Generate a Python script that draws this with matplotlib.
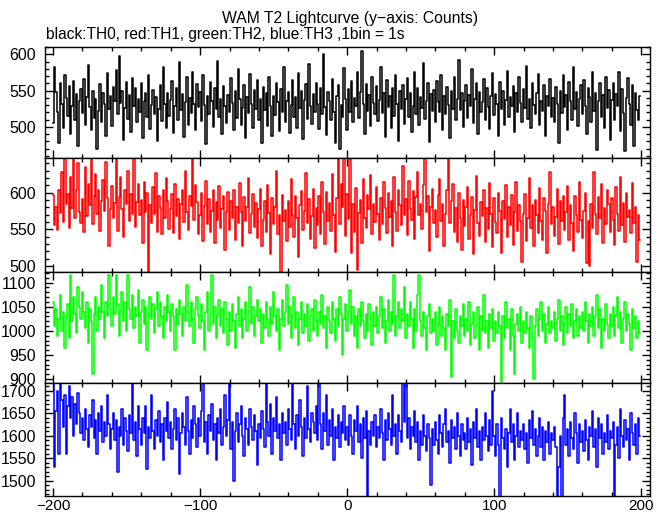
import numpy as np
import matplotlib
matplotlib.use("Agg")
import matplotlib.pyplot as plt
from matplotlib.ticker import MultipleLocator

# ---- data (counts per 1 s bin) ----
bin_start = -200
n_bins = 400

th0 = [
 505,583,548,521,477,560,532,498,571,540,515,556,490,528,563,509,545,474,536,552,
 519,566,503,541,585,527,495,550,512,538,470,522,559,507,547,531,488,574,524,543,
 501,555,536,578,517,598,533,549,482,526,562,511,544,493,567,529,553,506,539,520,
 561,484,535,546,513,572,497,530,551,518,541,480,525,557,508,582,532,499,547,515,
 537,563,492,528,554,510,589,523,545,486,534,568,502,540,519,576,531,496,559,527,
 548,508,571,530,476,542,517,562,535,500,553,524,591,514,538,490,556,529,505,544,
 520,567,533,496,549,512,580,538,503,526,557,485,541,519,573,532,498,551,525,564,
 510,539,478,555,523,546,501,569,529,487,543,516,560,534,494,552,521,583,507,536,
 548,491,530,565,513,541,499,574,526,550,483,537,559,511,587,528,504,545,520,561,
 532,497,554,518,600,527,489,548,535,509,566,521,478,543,557,469,530,514,581,538,
 495,552,520,563,506,540,528,575,512,548,604,531,490,559,522,544,501,569,533,517,
 556,508,537,582,519,546,486,564,527,542,498,553,515,571,531,481,549,524,558,504,
 539,567,513,547,493,529,576,518,554,502,541,526,588,511,536,560,479,545,522,551,
 507,563,534,521,572,496,543,517,555,530,484,549,525,568,510,539,592,523,547,500,
 535,557,512,544,528,579,505,538,561,490,548,520,534,566,509,553,527,497,542,574,
 516,545,531,488,562,524,550,503,537,577,514,541,529,556,493,547,521,569,533,507,
 552,526,584,511,539,498,560,530,517,546,573,502,535,522,558,487,543,528,566,513,
 540,506,555,532,478,549,519,571,527,544,495,562,536,510,583,524,548,501,538,557,
 518,565,529,490,553,541,507,576,522,547,468,535,560,513,544,499,569,526,551,482,
 537,561,509,545,528,575,494,552,519,466,540,567,531,502,558,473,546,523,510,542,
]

th1 = [
 597,556,581,549,603,572,628,560,650,585,598,552,621,579,650,566,603,640,574,558,
 591,547,635,568,612,583,650,557,596,625,571,603,548,589,617,575,642,592,528,578,
 609,566,586,650,548,594,621,577,539,603,584,630,562,598,571,650,553,587,612,569,
 590,532,615,574,600,488,583,558,607,571,626,546,595,579,543,604,566,620,588,551,
 577,598,545,612,568,591,537,584,603,560,629,574,549,596,582,650,563,610,587,543,
 569,599,534,582,616,557,591,546,575,604,531,587,563,609,552,578,596,522,573,601,
 549,588,566,604,535,581,559,613,574,527,594,562,580,620,545,571,598,553,586,538,
 577,605,528,563,589,547,610,572,516,592,557,581,630,544,569,488,597,561,576,534,
 588,553,619,570,540,595,566,512,583,602,549,575,626,558,591,537,568,605,524,579,
 556,596,543,615,574,530,601,562,586,548,625,570,519,593,650,557,612,580,650,541,
 598,564,650,518,584,547,606,495,572,590,531,618,566,552,597,578,624,543,585,560,
 608,571,536,593,557,614,579,545,600,567,589,528,621,574,548,603,583,556,636,570,
 591,542,616,578,563,602,537,594,628,569,585,551,610,650,573,596,521,580,605,558,
 576,539,597,618,562,584,527,571,603,650,559,588,612,546,579,533,600,566,522,590,
 554,581,607,537,569,594,516,576,622,558,541,587,568,604,533,579,550,613,571,526,
 593,560,545,600,575,518,588,564,610,539,581,556,597,529,573,615,548,583,562,505,
 571,598,534,566,620,552,583,527,590,569,545,606,561,536,592,575,518,585,628,557,
 580,541,567,605,530,588,562,596,549,574,609,535,583,559,521,596,570,546,614,563,
 538,575,599,504,561,500,585,552,628,571,543,594,566,612,531,579,557,603,584,547,
 592,563,529,607,571,548,621,556,586,533,600,567,576,545,613,558,581,505,569,535,
]

th2 = [
 1060,1010,1045,990,1025,1075,1000,1040,965,1030,1055,985,1115,1020,1070,1035,995,1090,1050,1025,
 1080,1040,1005,1060,975,1045,1020,910,1035,1070,1000,1050,1025,1095,1040,985,1060,1030,1115,1045,
 1010,1070,1035,1115,1055,990,1040,1080,1020,1060,1000,1115,1045,1025,1075,1005,1050,1030,1085,975,
 1040,1065,1015,1050,960,1035,1070,1025,1055,995,1045,1080,1010,1060,1030,985,1050,1020,1075,1040,
 1000,1055,1030,960,1045,1015,1065,1035,990,1050,1020,1095,1040,1010,1060,1025,975,1045,1070,1030,
 1005,1055,1020,960,1040,1080,1000,1035,1115,1015,1050,985,1030,1065,1010,1045,995,1060,1025,970,
 1040,1000,1055,1020,965,1035,1070,1010,1045,985,1025,1060,1000,1040,1090,1015,1050,990,1030,1065,
 1020,1045,975,1035,1005,1060,1025,990,1050,1015,1080,1030,1000,1045,960,1025,1065,1010,1040,1095,
 1015,1050,985,1030,1070,1005,1040,970,1025,1060,995,1035,1010,1055,980,1030,1045,1000,1065,1020,
 990,1040,1015,1075,1005,1030,965,1050,1020,995,1060,1025,980,1045,1010,1070,1035,950,1025,1055,
 1000,1040,1085,1015,1050,990,1030,965,1045,1010,1060,1020,985,1035,1000,1055,1025,970,1040,1010,
 1050,995,1030,1070,1005,1045,975,1020,1065,1000,1040,1015,1115,990,1030,1060,1005,1045,1020,1090,
 985,1035,1010,1060,1025,965,1045,1000,1075,1115,1020,990,1040,1005,960,1030,1055,995,1025,1000,
 1040,970,1015,1050,990,1030,1005,960,1035,1010,1065,905,1020,985,1045,1000,975,1030,1010,1055,
 990,1025,1000,1060,970,1015,1040,985,1010,1050,960,1030,1000,1075,995,1020,965,1035,1005,1045,
 980,1020,995,1040,1010,895,1030,985,1060,1005,1025,960,1045,990,910,1015,1035,1000,1050,975,
 1020,995,1040,1005,965,1030,985,900,1010,1045,990,1025,1060,1000,1035,975,1015,1050,995,1020,
 1005,1040,980,1025,1065,1000,1030,970,1015,1050,995,1035,1010,1055,985,1020,1045,990,1030,1005,
 1040,1000,1060,1020,975,1035,1010,1050,990,1030,1075,1005,1045,965,1025,1000,1055,1015,985,1035,
 1010,1050,990,1030,1070,1005,1040,975,1025,1060,1000,1035,1015,960,1045,1005,1030,985,1020,995,
]

th3 = [
 1720,1530,1655,1700,1560,1720,1680,1620,1690,1560,1665,1710,1640,1685,1600,1670,1625,1695,1650,1605,
 1640,1590,1660,1615,1575,1645,1620,1680,1595,1635,1560,1650,1610,1665,1585,1630,1600,1690,1625,1570,
 1615,1650,1590,1635,1520,1620,1600,1660,1580,1640,1610,1565,1645,1605,1720,1590,1630,1555,1665,1615,
 1580,1640,1605,1665,1525,1620,1595,1690,1610,1570,1635,1600,1655,1585,1625,1545,1640,1610,1675,1595,
 1630,1570,1615,1660,1590,1640,1515,1605,1650,1620,1580,1685,1610,1560,1635,1595,1665,1625,1575,1640,
 1600,1655,1720,1585,1630,1560,1645,1610,1670,1590,1625,1545,1640,1605,1660,1580,1620,1690,1600,1635,
 1720,1570,1630,1500,1610,1650,1585,1625,1665,1600,1555,1640,1615,1580,1660,1620,1590,1645,1610,1535,
 1625,1595,1655,1615,1575,1720,1630,1600,1670,1560,1640,1610,1685,1595,1625,1545,1650,1605,1630,1580,
 1660,1615,1590,1720,1625,1570,1645,1600,1680,1620,1555,1640,1595,1710,1615,1585,1650,1630,1605,1665,
 1590,1720,1625,1570,1650,1610,1690,1580,1635,1600,1660,1545,1620,1595,1645,1575,1630,1605,1665,1590,
 1620,1580,1645,1600,1560,1635,1610,1665,1585,1625,1550,1640,1595,1655,1460,1610,1580,1630,1600,1645,
 1575,1620,1595,1660,1605,1545,1635,1590,1650,1615,1580,1690,1600,1625,1560,1645,1610,1585,1720,1630,
 1720,1595,1640,1570,1620,1600,1655,1585,1630,1545,1610,1580,1645,1600,1565,1625,1595,1490,1615,1580,
 1630,1590,1560,1645,1605,1575,1625,1660,1585,1610,1540,1635,1595,1620,1570,1650,1600,1555,1625,1590,
 1605,1570,1640,1585,1615,1535,1630,1595,1660,1575,1610,1545,1620,1590,1650,1600,1565,1635,1580,1700,
 1600,1555,1625,1580,1460,1640,1595,1570,1615,1530,1605,1660,1585,1625,1545,1600,1650,1575,1610,1590,
 1625,1570,1605,1540,1635,1595,1655,1580,1615,1555,1600,1640,1575,1620,1545,1610,1585,1630,1560,1605,
 1590,1620,1575,1460,1530,1600,1460,1640,1690,1580,1615,1555,1630,1595,1570,1650,1605,1540,1625,1585,
 1610,1565,1635,1590,1545,1620,1600,1655,1575,1615,1530,1640,1595,1625,1560,1605,1585,1645,1570,1610,
 1595,1630,1460,1580,1620,1550,1660,1600,1575,1635,1590,1615,1545,1650,1605,1580,1625,1560,1640,1600,
]

series = [th0, th1, th2, th3]
colors = ["black", "#ff0000", "#00ff00", "#0000ff"]
ylims = [(457, 610), (492, 647), (892, 1122), (1466, 1717)]
xticks = [-200, -100, 0, 100, 200]

title = "WAM T2 Lightcurve (y\u2212axis: Counts)"
subtitle = "black:TH0, red:TH1, green:TH2, blue:TH3 ,1bin = 1s"

plt.rcParams["font.family"] = ["Liberation Sans", "DejaVu Sans"]

W, H = 669, 515
fig = plt.figure(figsize=(W / 100, H / 100), dpi=100)

# panel pixel extents (top, bottom)
panels_px = [(47, 158), (158, 272), (272, 383), (383, 496)]
left_px, right_px = 45, 650

t = bin_start + np.arange(n_bins)

for i, (vals, col, yl, (ptop, pbot)) in enumerate(zip(series, colors, ylims, panels_px)):
    ax = fig.add_axes([left_px / W, 1 - pbot / H, (right_px - left_px) / W, (pbot - ptop) / H])
    ax.plot(t, vals, drawstyle="steps-mid", color=col, lw=1.1, antialiased=True)
    ax.set_xlim(-205.5, 206)
    ax.set_ylim(*yl)
    ax.xaxis.set_major_locator(MultipleLocator(100))
    ax.xaxis.set_minor_locator(MultipleLocator(20))
    ax.yaxis.set_major_locator(MultipleLocator(50))
    ax.yaxis.set_minor_locator(MultipleLocator(10))
    ax.tick_params(which="both", direction="in", top=True, right=True, width=1.0, colors="black")
    ax.tick_params(which="major", length=6)
    ax.tick_params(which="minor", length=3)
    ax.tick_params(axis="y", labelsize=11.5, pad=6.5)
    ax.tick_params(axis="x", labelsize=11, pad=2.5)
    for s in ax.spines.values():
        s.set_linewidth(1.0)
    if i < 3:
        ax.set_xticklabels([])
    else:
        ax.set_xticks(xticks)

fig.text(350 / W, 1 - 18 / H, title, ha="center", va="center", fontsize=11.3)
fig.text(46 / W, 1 - 35 / H, subtitle, ha="left", va="center", fontsize=11.2)

fig.savefig("out.png", dpi=100)
